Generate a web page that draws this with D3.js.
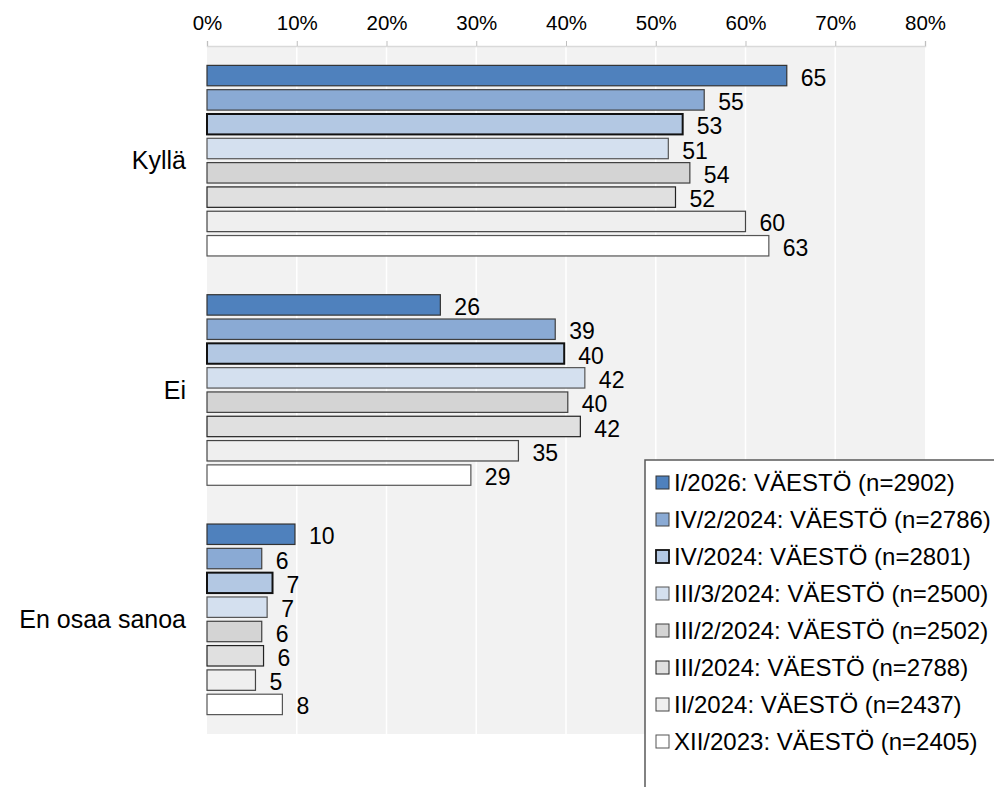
<!DOCTYPE html>
<html>
<head>
<meta charset="utf-8">
<script src="https://cdn.jsdelivr.net/npm/d3@7"></script>
<style>
  body { margin: 0; background: #fff; }
  text { font-family: "Liberation Sans", Arial, sans-serif; fill: #000; }
</style>
</head>
<body>
<div id="chart"></div>
<script>
const categories = ["Kyllä", "Ei", "En osaa sanoa"];
const seriesNames = [
    "I/2026: VÄESTÖ (n=2902)",
    "IV/2/2024: VÄESTÖ (n=2786)",
    "IV/2024: VÄESTÖ (n=2801)",
    "III/3/2024: VÄESTÖ (n=2500)",
    "III/2/2024: VÄESTÖ (n=2502)",
    "III/2024: VÄESTÖ (n=2788)",
    "II/2024: VÄESTÖ (n=2437)",
    "XII/2023: VÄESTÖ (n=2405)"
];
// one array per answer, in series order
const kylla = [64.6, 55.4, 53.0, 51.4, 53.8, 52.2, 60.0, 62.6];
const ei = [26.0, 38.8, 39.8, 42.1, 40.2, 41.6, 34.7, 29.4];
const enOsaa = [9.8, 6.1, 7.3, 6.7, 6.1, 6.3, 5.4, 8.4];
const xTicks = [0, 10, 20, 30, 40, 50, 60, 70, 80];

const fills = ["#4f81bd", "#8aaad4", "#b3c8e3", "#d4e0ef", "#d4d4d4", "#e0e0e0", "#efefef", "#ffffff"];
const strokes = ["#333", "#404040", "#111", "#555", "#404040", "#222", "#444", "#555"];
const strokeWidths = [1.2, 1.2, 2, 1.2, 1.2, 1.2, 1.2, 1.2];

const W = 994, H = 787;
const plot = {left: 207, right: 925, top: 46, bottom: 734};

const svg = d3.select("#chart").append("svg")
    .attr("width", W)
    .attr("height", H);

const x = d3.scaleLinear().domain([0, 80]).range([plot.left, plot.right]);

const y = d3.scaleBand()
    .domain(categories)
    .range([plot.top, plot.bottom])
    .paddingInner(0.152)
    .paddingOuter(0.076);

const ySeries = d3.scaleBand()
    .domain(d3.range(seriesNames.length))
    .range([0, y.bandwidth()])
    .paddingInner(0.16)
    .paddingOuter(0.08);

const data = [kylla, ei, enOsaa].map((vals, ci) => ({
    category: categories[ci],
    values: vals.map((v, si) => ({series: si, value: v}))
}));

// plot background
svg.append("rect")
    .attr("x", plot.left)
    .attr("y", plot.top)
    .attr("width", plot.right - plot.left)
    .attr("height", plot.bottom - plot.top)
    .attr("fill", "#f2f2f2");

// vertical grid
svg.append("g")
    .selectAll("line")
    .data(xTicks.slice(1, -1))
    .join("line")
    .attr("x1", d => x(d)).attr("x2", d => x(d))
    .attr("y1", plot.top).attr("y2", plot.bottom)
    .attr("stroke", "#ffffff")
    .attr("stroke-width", 1.5);

// top axis
const xAxis = d3.axisTop(x)
    .tickValues(xTicks)
    .tickSize(5)
    .tickPadding(11)
    .tickFormat(d => d + "%");

const axisG = svg.append("g")
    .attr("transform", `translate(0,${plot.top})`)
    .call(xAxis);
axisG.select(".domain").attr("stroke", "#d9d9d9").attr("stroke-width", 1.5);
axisG.selectAll(".tick line").attr("stroke", "#bfbfbf");
axisG.selectAll(".tick text")
    .style("font-size", "20.5px")
    .style("font-family", "'Liberation Sans', Arial, sans-serif")
    .attr("fill", "#000");

// category labels
svg.append("g")
    .selectAll("text")
    .data(categories)
    .join("text")
    .attr("x", 186)
    .attr("y", d => y(d) + y.bandwidth() / 2)
    .attr("dy", "0.35em")
    .attr("text-anchor", "end")
    .style("font-size", "25px")
    .text(d => d);

// bars
const groups = svg.append("g")
    .selectAll("g")
    .data(data)
    .join("g")
    .attr("transform", d => `translate(0,${y(d.category)})`);

groups.selectAll("rect")
    .data(d => d.values)
    .join("rect")
    .attr("x", x(0))
    .attr("y", d => ySeries(d.series))
    .attr("width", d => x(d.value) - x(0))
    .attr("height", ySeries.bandwidth())
    .attr("fill", d => fills[d.series])
    .attr("stroke", d => strokes[d.series])
    .attr("stroke-width", d => strokeWidths[d.series]);

groups.selectAll("text")
    .data(d => d.values)
    .join("text")
    .attr("x", d => x(d.value) + 14)
    .attr("y", d => ySeries(d.series) + ySeries.bandwidth() / 2 + 2)
    .attr("dy", "0.35em")
    .style("font-size", "23px")
    .text(d => Math.round(d.value));

// legend
const legend = svg.append("g").attr("transform", "translate(645,460)");
legend.append("rect")
    .attr("x", 0).attr("y", 0)
    .attr("width", 400).attr("height", 400)
    .attr("fill", "#ffffff")
    .attr("stroke", "#595959")
    .attr("stroke-width", 1.5);

const items = legend.selectAll("g.item")
    .data(seriesNames)
    .join("g")
    .attr("class", "item")
    .attr("transform", (d, i) => `translate(0,${22.5 + i * 37})`);

items.append("rect")
    .attr("x", 11).attr("y", -6.5)
    .attr("width", 13).attr("height", 13)
    .attr("fill", (d, i) => fills[i])
    .attr("stroke", (d, i) => strokes[i])
    .attr("stroke-width", (d, i) => strokeWidths[i] === 2 ? 1.8 : 1);

items.append("text")
    .attr("x", 29)
    .attr("y", 0)
    .attr("dy", "0.35em")
    .style("font-size", "24px")
    .text(d => d);
</script>
</body>
</html>
